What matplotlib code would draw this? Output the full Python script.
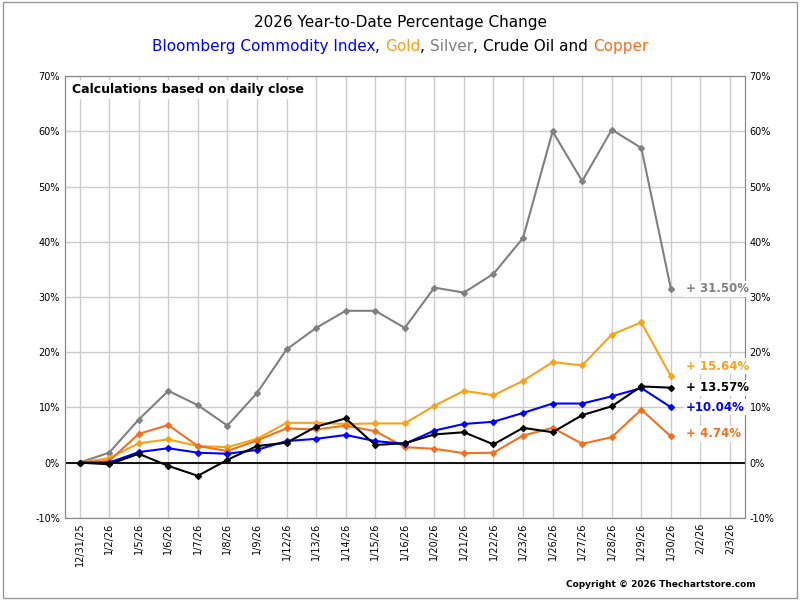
import matplotlib
matplotlib.use("Agg")
import matplotlib.pyplot as plt
from matplotlib.patches import Rectangle

dates = ["12/31/25","1/2/26","1/5/26","1/6/26","1/7/26","1/8/26","1/9/26","1/12/26","1/13/26","1/14/26",
         "1/15/26","1/16/26","1/20/26","1/21/26","1/22/26","1/23/26","1/26/26","1/27/26","1/28/26","1/29/26",
         "1/30/26","2/2/26","2/3/26"]
silver = [0,1.8,7.8,13,10.4,6.7,12.6,20.5,24.4,27.5,27.5,24.4,31.7,30.8,34.2,40.7,60,51,60.3,57,31.5]
gold = [0,0.8,3.5,4.2,3.0,2.8,4.3,7.2,7.2,7.0,7.1,7.1,10.3,13,12.2,14.8,18.2,17.6,23.2,25.4,15.64]
copper = [0,0.3,5.2,6.8,3.0,2.1,4.0,6.2,6.0,6.7,5.7,2.8,2.5,1.7,1.8,4.9,6.3,3.4,4.6,9.6,4.74]
crude = [0,-0.3,1.6,-0.6,-2.4,0.5,3.0,3.6,6.5,8.0,3.2,3.5,5.1,5.5,3.3,6.3,5.5,8.6,10.2,13.8,13.57]
bcom = [0,0,1.9,2.6,1.8,1.6,2.3,3.9,4.3,5.0,3.9,3.4,5.8,7.0,7.4,9.0,10.7,10.7,12.0,13.5,10.04]

C_SILVER, C_GOLD, C_COPPER, C_CRUDE, C_BCOM = "#808080", "#F7A21B", "#F07022", "#000000", "#0000FF"

fig = plt.figure(figsize=(8, 6), dpi=100)
fig.patches.append(Rectangle((0.004, 0.004), 0.992, 0.992, transform=fig.transFigure,
                             fill=False, edgecolor="#999999", lw=1))
ax = fig.add_axes([0.081, 0.137, 0.85, 0.736])
x = list(range(len(dates)))
n = len(silver)
for vals, c in [(silver, C_SILVER), (gold, C_GOLD), (copper, C_COPPER), (bcom, C_BCOM), (crude, C_CRUDE)]:
    ax.plot(x[:n], vals, color=c, lw=1.5, marker="D", ms=3)
ax.axhline(0, color="black", lw=1.3)
ax.set_xlim(-0.5, len(dates) - 0.5)
ax.set_ylim(-10, 70)
yt = list(range(-10, 71, 10))
ax.set_yticks(yt)
ax.set_yticklabels([f"{v}%" for v in yt], fontsize=7)
ax.set_xticks(x)
ax.set_xticklabels(dates, rotation=90, fontsize=7)
ax.grid(True, color="#cccccc", lw=1)
ax.tick_params(length=0)
ax2 = ax.twinx()
ax2.set_ylim(-10, 70)
ax2.set_yticks(yt)
ax2.set_yticklabels([f"{v}%" for v in yt], fontsize=7)
ax2.tick_params(length=0)
for a in (ax, ax2):
    for s in a.spines.values():
        s.set_color("#888888")

ax.text(0.01, 0.985, "Calculations based on daily close", transform=ax.transAxes,
        fontsize=9, fontweight="bold", va="top", ha="left",
        bbox=dict(facecolor="white", edgecolor="none", pad=2))
lx = n - 1 + 0.5
for v, lbl, c, y in [(silver[-1], "+ 31.50%", C_SILVER, 31.5), (gold[-1], "+ 15.64%", C_GOLD, 17.5),
                     (crude[-1], "+ 13.57%", C_CRUDE, 13.57), (bcom[-1], "+10.04%", C_BCOM, 10.04),
                     (copper[-1], "+ 4.74%", C_COPPER, 5.2)]:
    ax2.text(lx, y, lbl, color=c, fontsize=8.5, fontweight="bold", va="center", ha="left",
             transform=ax.transData, zorder=10,
             bbox=dict(facecolor="white", edgecolor="none", pad=1))

fig.text(0.5, 0.955, "2026 Year-to-Date Percentage Change", ha="center", fontsize=11)
parts = [("Bloomberg Commodity Index", C_BCOM), (", ", "black"), ("Gold", C_GOLD), (", ", "black"),
         ("Silver", C_SILVER), (", ", "black"), ("Crude Oil and ", "black"), ("Copper", C_COPPER)]
r = fig.canvas.get_renderer()
widths = []
for t, c in parts:
    tt = fig.text(0, 0, t, fontsize=11)
    widths.append(tt.get_window_extent(r).width)
    tt.remove()
xs = 400 - sum(widths) / 2
for (t, c), w in zip(parts, widths):
    fig.text(xs / 800, 0.915, t, color=c, fontsize=11, ha="left")
    xs += w
fig.text(0.945, 0.022, "Copyright © 2026 Thechartstore.com", ha="right", fontsize=6.5, fontweight="bold")
fig.savefig("out.png", dpi=100)
